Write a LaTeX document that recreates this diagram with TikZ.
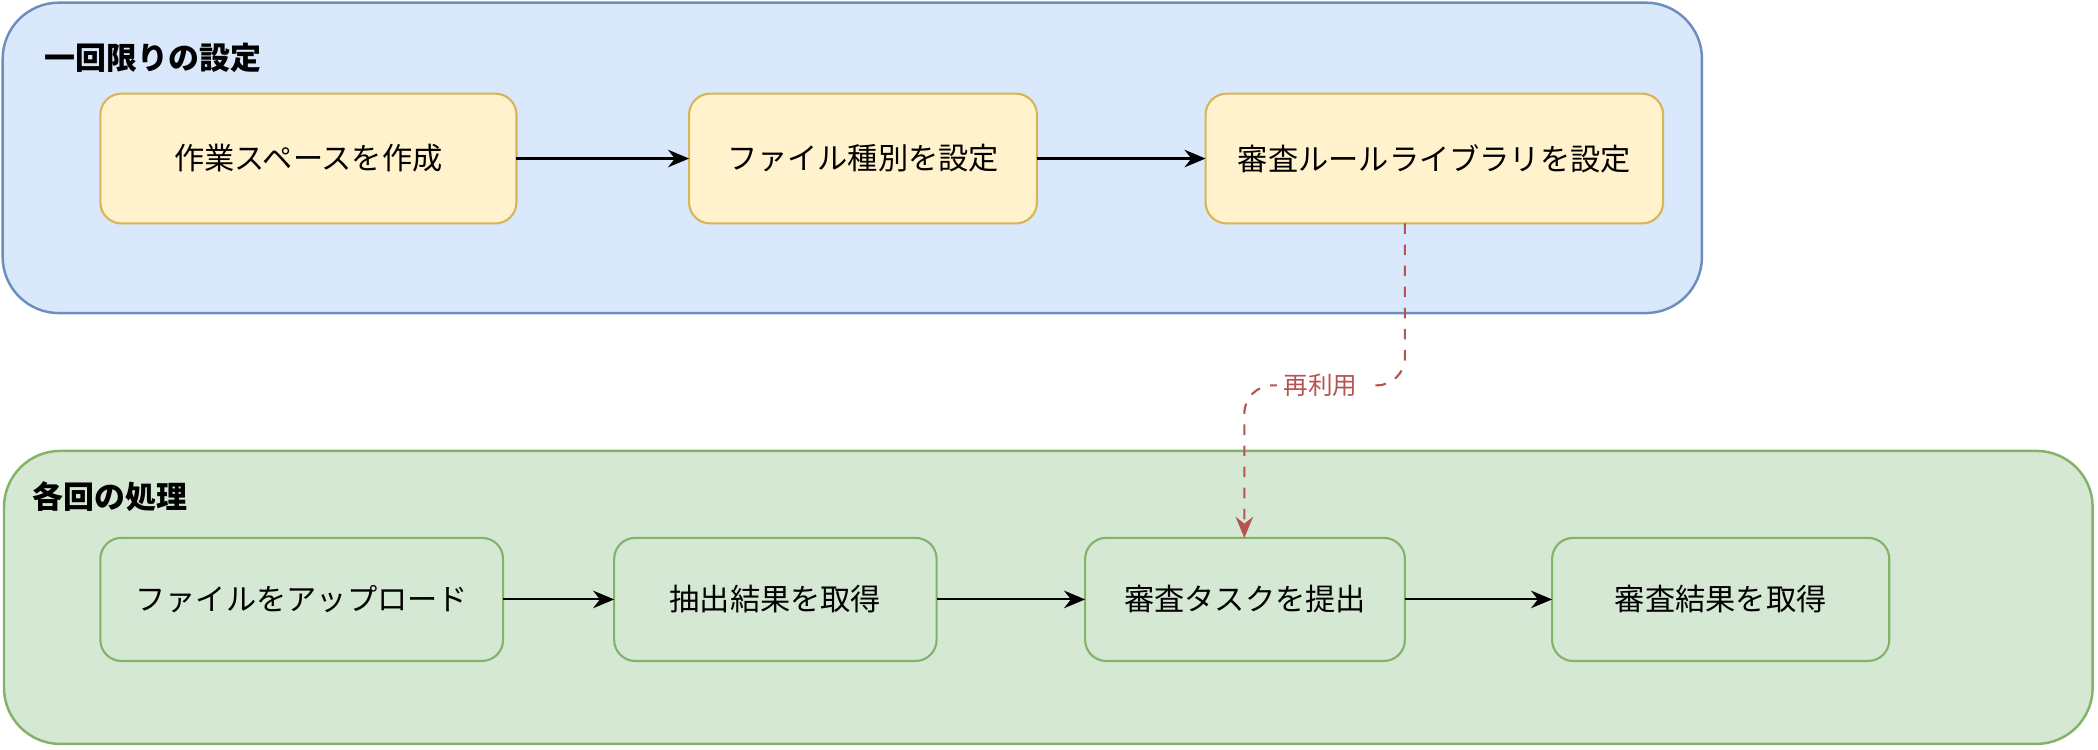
\documentclass[tikz,border=0pt]{standalone}
\usepackage{fontspec}
\setmainfont{Noto Sans CJK JP}
\usetikzlibrary{arrows.meta,positioning}
\definecolor{grpblue}{RGB}{218,232,252}
\definecolor{grpblueline}{RGB}{108,142,191}
\definecolor{grpgreen}{RGB}{213,232,212}
\definecolor{grpgreenline}{RGB}{130,179,102}
\definecolor{stepyellow}{RGB}{255,242,204}
\definecolor{stepyellowline}{RGB}{214,182,86}
\definecolor{reuse}{RGB}{184,84,80}
\tikzset{
    % Group styles
    group box/.style={
        rectangle,
        rounded corners=16pt,
        line width=0.7pt
    },
    % Step styles
    setup step/.style={
        draw=stepyellowline,
        fill=stepyellow,
        rectangle,
        rounded corners=6pt,
        line width=0.6pt,
        font=\fontsize{8.6pt}{10pt}\selectfont
    },
    run step/.style={
        draw=grpgreenline,
        fill=grpgreen,
        rectangle,
        rounded corners=6pt,
        line width=0.6pt,
        font=\fontsize{8.6pt}{10pt}\selectfont
    },
    % Arrow styles
    flow arrow/.style={
        -{Stealth[length=6pt,width=5pt]},
        line width=0.6pt
    },
    reuse arrow/.style={
        -{Stealth[length=6pt,width=5pt]},
        reuse,
        dashed,
        line width=0.6pt
    },
    group title/.style={
        anchor=west,
        inner sep=0pt,
        font=\fontsize{8.8pt}{10pt}\selectfont\bfseries
    }
}
\begin{document}
\begin{tikzpicture}[x=0.01338cm,y=-0.01338cm]
        \useasboundingbox (0,0) rectangle (1568,560.5);

        % Groups
        \draw[group box, fill=grpblue, draw=grpblueline] (2,2) rectangle (1272,234);
        \draw[group box, fill=grpgreen, draw=grpgreenline] (3,337) rectangle (1564,556);
        \node[group title] (setuptitle) at (33,43) {一回限りの設定};
        \node[group title] (runtitle) at (24,371) {各回の処理};

        % One-time setup steps
        \draw[setup step] (75,70) rectangle node (ws) {作業スペースを作成} (386,167);
        \draw[setup step] (515,70) rectangle node (ft) {ファイル種別を設定} (775,167);
        \draw[setup step] (901,70) rectangle node (rl) {審査ルールライブラリを設定} (1243,167);
        \coordinate (wsE) at (386,118.5);
        \coordinate (ftW) at (515,118.5);
        \coordinate (ftE) at (775,118.5);
        \coordinate (rlW) at (901,118.5);
        \coordinate (rlS) at (1050,167);

        % Per-run steps
        \draw[run step] (75,402) rectangle node (up) {ファイルをアップロード} (376,494);
        \draw[run step] (459,402) rectangle node (ex) {抽出結果を取得} (700,494);
        \draw[run step] (811,402) rectangle node (sb) {審査タスクを提出} (1050,494);
        \draw[run step] (1160,402) rectangle node (rs) {審査結果を取得} (1412,494);
        \coordinate (upE) at (376,448);
        \coordinate (exW) at (459,448);
        \coordinate (exE) at (700,448);
        \coordinate (sbW) at (811,448);
        \coordinate (sbE) at (1050,448);
        \coordinate (rsW) at (1160,448);
        \coordinate (sbN) at (930,402);

        % Arrows
        \draw[flow arrow] (wsE) -- (ftW);
        \draw[flow arrow] (ftE) -- (rlW);
        \draw[flow arrow] (upE) -- (exW);
        \draw[flow arrow] (exE) -- (sbW);
        \draw[flow arrow] (sbE) -- (rsW);

        % Reuse link
        \draw[reuse arrow, rounded corners=8pt] (rlS) -- (1050,288) -- (930,288) -- (sbN);
        \node[fill=white, inner sep=2pt, text=reuse, font=\fontsize{7pt}{8pt}\selectfont] (reuselabel) at (987,288) {再利用};
    \end{tikzpicture}
\end{document}
